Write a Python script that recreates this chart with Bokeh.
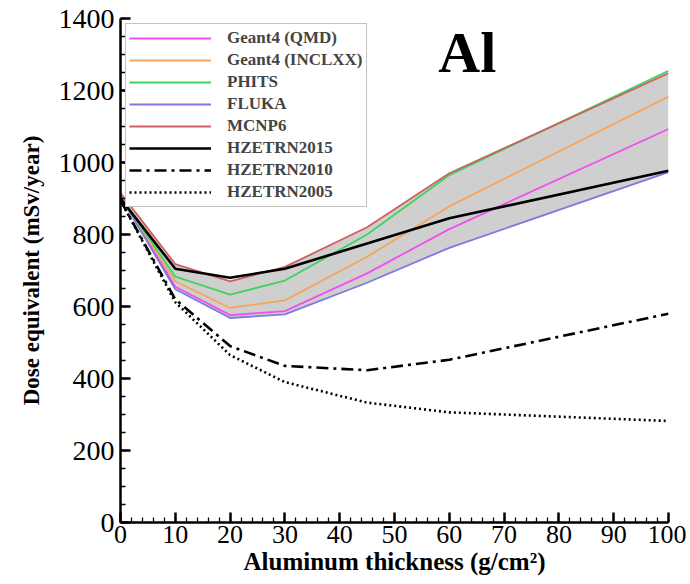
from bokeh.plotting import figure
from bokeh.models import Range1d, Legend, LegendItem, Label, FixedTicker
from bokeh.embed import file_html
from bokeh.resources import INLINE

# thickness (g/cm2)
thickness = [0, 10, 20, 30, 45, 60, 100]

geant4_qmd = [910, 655, 576, 587, 692, 815, 1093]
geant4_inclxx = [905, 670, 596, 617, 738, 878, 1183]
phits = [905, 683, 633, 672, 800, 965, 1255]
fluka = [905, 648, 568, 578, 666, 763, 973]
mcnp6 = [915, 718, 670, 710, 820, 970, 1248]
hzetrn2015 = [900, 705, 680, 705, 775, 845, 977]
hzetrn2010 = [895, 620, 490, 435, 423, 452, 580]
hzetrn2005 = [895, 612, 465, 390, 333, 306, 282]

x_ticks = [0, 10, 20, 30, 40, 50, 60, 70, 80, 90, 100]
y_ticks = [0, 200, 400, 600, 800, 1000, 1200, 1400]

SERIF = "Liberation Serif"

p = figure(width=686, height=580, output_backend="svg", toolbar_location=None,
           x_range=Range1d(0, 100), y_range=Range1d(0, 1400),
           min_border_left=120, min_border_right=18, min_border_top=18,
           min_border_bottom=58)
p.outline_line_color = None
p.xgrid.visible = False
p.ygrid.visible = False

mc_sets = [geant4_qmd, geant4_inclxx, phits, fluka, mcnp6]
band_low = [min(v) for v in zip(*mc_sets)]
band_high = [max(v) for v in zip(*mc_sets)]
p.varea(x=thickness, y1=band_low, y2=band_high, fill_color="#cfcfcf")

r_qmd = p.line(thickness, geant4_qmd, line_color="#f050f0", line_width=1.8)
r_incl = p.line(thickness, geant4_inclxx, line_color="#f5a55a", line_width=1.8)
r_phits = p.line(thickness, phits, line_color="#3fd35f", line_width=1.8)
r_fluka = p.line(thickness, fluka, line_color="#7b7be0", line_width=1.8)
r_mcnp = p.line(thickness, mcnp6, line_color="#d06060", line_width=1.8)
r_h15 = p.line(thickness, hzetrn2015, line_color="black", line_width=2.6)
r_h10 = p.line(thickness, hzetrn2010, line_color="black", line_width=2.6,
               line_dash="12 5 3 5")
r_h05 = p.line(thickness, hzetrn2005, line_color="black", line_width=2.6,
               line_dash="2 3")

legend = Legend(items=[
    LegendItem(label="Geant4 (QMD)", renderers=[r_qmd]),
    LegendItem(label="Geant4 (INCLXX)", renderers=[r_incl]),
    LegendItem(label="PHITS", renderers=[r_phits]),
    LegendItem(label="FLUKA", renderers=[r_fluka]),
    LegendItem(label="MCNP6", renderers=[r_mcnp]),
    LegendItem(label="HZETRN2015", renderers=[r_h15]),
    LegendItem(label="HZETRN2010", renderers=[r_h10]),
    LegendItem(label="HZETRN2005", renderers=[r_h05]),
], location="top_left")
legend.margin = 5
legend.padding = 3
legend.spacing = 0
legend.label_height = 22
legend.glyph_height = 22
legend.glyph_width = 82
legend.label_standoff = 16
legend.label_text_font = SERIF
legend.label_text_font_style = "bold"
legend.label_text_font_size = "17px"
legend.border_line_color = "#888888"
legend.border_line_width = 1
legend.background_fill_alpha = 1
p.add_layout(legend, "center")

p.add_layout(Label(x=58, y=1305, text="Al", text_font=SERIF,
                   text_font_style="bold", text_font_size="58px",
                   text_baseline="alphabetic", text_color="black"))

for ax in (p.xaxis[0], p.yaxis[0]):
    ax.axis_line_width = 2.5
    ax.axis_line_color = "black"
    ax.major_tick_in = 10
    ax.major_tick_out = 0
    ax.minor_tick_in = 5
    ax.minor_tick_out = 0
    ax.major_tick_line_width = 2.5
    ax.minor_tick_line_width = 1.3
    ax.major_label_text_font = SERIF
    ax.major_label_text_color = "black"
    ax.axis_label_text_font = SERIF
    ax.axis_label_text_font_style = "bold"
    ax.axis_label_text_color = "black"

p.xaxis.major_label_text_font_size = "26px"
p.yaxis.major_label_text_font_size = "28px"
p.xaxis.axis_label_text_font_size = "25px"
p.yaxis.axis_label_text_font_size = "23px"
p.xaxis.ticker = FixedTicker(ticks=x_ticks, minor_ticks=list(range(0, 101, 2)))
p.yaxis.ticker = FixedTicker(ticks=y_ticks, minor_ticks=list(range(0, 1401, 50)))
p.xaxis.axis_label = "Aluminum thickness (g/cm²)"
p.yaxis.axis_label = "Dose equivalent (mSv/year)"
p.xaxis.major_label_standoff = 3
p.xaxis.axis_label_standoff = 2
p.yaxis.major_label_standoff = 6
p.yaxis.axis_label_standoff = 12

open("out.html", "w").write(file_html(p, INLINE))
